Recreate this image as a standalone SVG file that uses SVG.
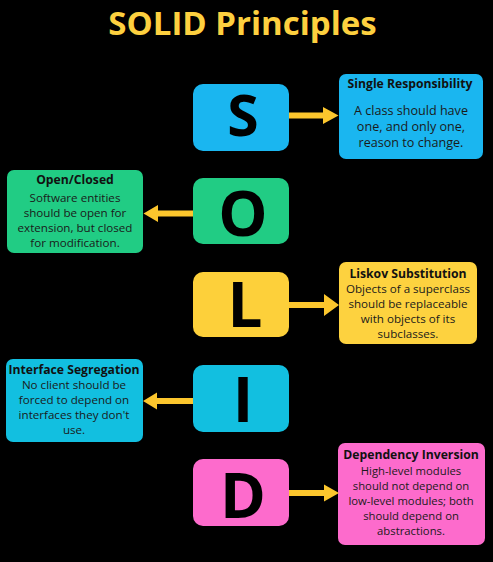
<svg xmlns="http://www.w3.org/2000/svg" width="493" height="562" viewBox="0 0 493 562">
<style>
.title{font-family:"Open Sans","Liberation Sans",sans-serif;font-weight:700;font-size:33px;fill:#fdd03f}
.letter{font-family:"Open Sans","Liberation Sans",sans-serif;font-weight:700;font-size:62px;fill:#000;text-anchor:middle}
.h{font-family:"Open Sans","Liberation Sans",sans-serif;font-weight:700;font-size:12.2px;fill:#111;text-anchor:middle}
.b{font-family:"Open Sans","Liberation Sans",sans-serif;font-weight:400;font-size:11.6px;fill:#1a1a1a;text-anchor:middle}
.arrow{fill:#fcc62d}
</style>
<rect width="493" height="562" fill="#000"/>
<text class="title" x="242.5" y="35" text-anchor="middle">SOLID Principles</text>

<g id="S">
<rect x="193" y="84" width="96" height="67" rx="10" fill="#1ab6f0"/>
<text class="letter" x="243" y="136" style="font-size:57px">S</text>
</g>
<g id="single-responsibility">
<rect x="339" y="74" width="144" height="85" rx="7" fill="#1ab6f0"/>
<text class="h" x="410" y="88">Single Responsibility</text>
<text class="b" x="411" y="115" style="font-size:12.6px">A class should have</text>
<text class="b" x="411" y="131" style="font-size:12.6px">one, and only one,</text>
<text class="b" x="411" y="147" style="font-size:12.6px">reason to change.</text>
</g>

<g id="O">
<rect x="193" y="178" width="96" height="66" rx="10" fill="#21cc84"/>
<text class="letter" x="243" y="236">O</text>
</g>
<g id="open-closed">
<rect x="7" y="170" width="136" height="83" rx="7" fill="#21cc84"/>
<text class="h" x="75" y="184">Open/Closed</text>
<text class="b" x="75" y="202">Software entities</text>
<text class="b" x="75" y="217">should be open for</text>
<text class="b" x="75" y="232">extension, but closed</text>
<text class="b" x="75" y="247">for modification.</text>
</g>

<g id="L">
<rect x="193" y="272" width="96" height="65" rx="10" fill="#fdd03a"/>
<text class="letter" x="245" y="327">L</text>
</g>
<g id="liskov-substitution">
<rect x="339" y="262" width="138" height="82" rx="7" fill="#fdd23f"/>
<text class="h" x="408" y="278">Liskov Substitution</text>
<text class="b" x="408" y="293">Objects of a superclass</text>
<text class="b" x="408" y="308">should be replaceable</text>
<text class="b" x="408" y="323">with objects of its</text>
<text class="b" x="408" y="338">subclasses.</text>
</g>

<g id="I">
<rect x="193" y="365" width="96" height="67" rx="10" fill="#12bfe0"/>
<text class="letter" x="243" y="422">I</text>
</g>
<g id="interface-segregation">
<rect x="6" y="359" width="137" height="83" rx="7" fill="#12bfe0"/>
<text class="h" x="74" y="374">Interface Segregation</text>
<text class="b" x="74" y="389">No client should be</text>
<text class="b" x="74" y="404">forced to depend on</text>
<text class="b" x="74" y="419">interfaces they don't</text>
<text class="b" x="74" y="434">use.</text>
</g>

<g id="D">
<rect x="193" y="459" width="96" height="67" rx="10" fill="#fd6bcc"/>
<text class="letter" x="243" y="518">D</text>
</g>
<g id="dependency-inversion">
<rect x="338" y="443" width="147" height="102" rx="7" fill="#fd6bcc"/>
<text class="h" x="411" y="459">Dependency Inversion</text>
<text class="b" x="411" y="475" style="font-size:11.3px">High-level modules</text>
<text class="b" x="411" y="490" style="font-size:11.3px">should not depend on</text>
<text class="b" x="411" y="505" style="font-size:11.3px">low-level modules; both</text>
<text class="b" x="411" y="520" style="font-size:11.3px">should depend on</text>
<text class="b" x="411" y="535" style="font-size:11.3px">abstractions.</text>
</g>

<g id="connectors">
<path class="arrow" d="M289,112.5 H323 V107 L338.5,115.5 L323,124 V118.5 H289 Z"/>
<path class="arrow" d="M193,210.5 H158 V205 L143.5,213.5 L158,222 V216.5 H193 Z"/>
<path class="arrow" d="M289,302 H324 V294 L339,305 L324,316 V308 H289 Z"/>
<path class="arrow" d="M193,398 H157 V392.5 L143,401 L157,409.5 V404 H193 Z"/>
<path class="arrow" d="M289,490 H324 V484.5 L339,493 L324,501.5 V496 H289 Z"/>
</g>
</svg>
